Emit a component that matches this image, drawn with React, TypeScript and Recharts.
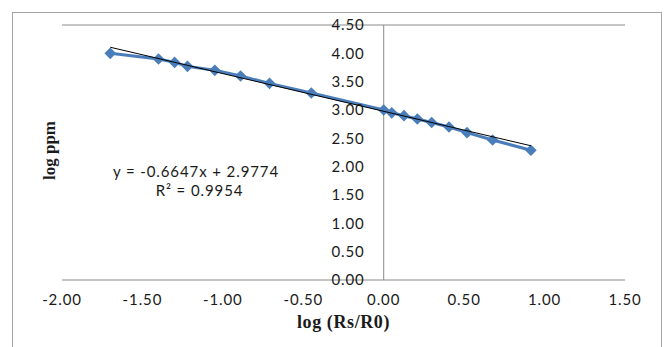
import {
  ComposedChart,
  CartesianGrid,
  ReferenceDot,
  ReferenceLine,
  Scatter,
  XAxis,
  YAxis,
} from "recharts";

// leituras do gráfico original (log Rs/R0 × log ppm)
const logRsR0 = [-1.7, -1.4, -1.3, -1.22, -1.05, -0.89, -0.71, -0.45, 0, 0.05, 0.126, 0.209, 0.298, 0.406, 0.518, 0.677, 0.915];
const logPpm = [4.0, 3.9, 3.84, 3.77, 3.7, 3.6, 3.47, 3.3, 3.0, 2.95, 2.9, 2.84, 2.78, 2.7, 2.6, 2.47, 2.29];

const xTicks = [-2, -1.5, -1, -0.5, 0, 0.5, 1, 1.5];
const yTicks = [0, 0.5, 1, 1.5, 2, 2.5, 3, 3.5, 4, 4.5];

// linha de tendência linear (coeficientes do próprio gráfico)
const slope = -0.6647;
const intercept = 2.9774;
const equationText = "y = -0.6647x + 2.9774";
const r2Text = "R² = 0.9954";

const pontos = logRsR0.map((x, i) => ({ x, y: logPpm[i] }));
const xMin = Math.min(...logRsR0);
const xMax = Math.max(...logRsR0);
const tendencia = [
  { x: xMin, y: slope * xMin + intercept },
  { x: xMax, y: slope * xMax + intercept },
];

const AZUL = "#4A7EBB";
const GRADE = "#8a8a8a";
const TEXTO = "#1a1a1a";
const FONTE = "Lato, 'Open Sans', sans-serif";
const SERIFA = "'Liberation Serif', 'DejaVu Serif', serif";

const fmt = (v: number) => v.toFixed(2);

const estiloTexto = {
  fontSize: 15,
  letterSpacing: 0.9,
  fill: TEXTO,
  fontFamily: FONTE,
};

function Losango(props: { cx?: number; cy?: number }) {
  const { cx, cy } = props;
  if (cx == null || cy == null) return null;
  const r = 5.8;
  return (
    <polygon
      points={`${cx},${cy - r} ${cx + r},${cy} ${cx},${cy + r} ${cx - r},${cy}`}
      fill={AZUL}
    />
  );
}

export default function App() {
  return (
    <div
      style={{
        position: "absolute",
        left: 0,
        top: 0,
        width: 664,
        height: 347,
        background: "#fff",
        overflow: "hidden",
      }}
    >
      <div
        style={{
          position: "absolute",
          left: 12,
          top: 12,
          width: 648,
          height: 360,
          border: "1px solid #a6a6a6",
        }}
      />
      <div style={{ position: "absolute", left: 0, top: 0 }}>
        <ComposedChart
          width={664}
          height={347}
          margin={{ top: 25, right: 39, bottom: 17, left: 0 }}
        >
          <CartesianGrid vertical={false} stroke={GRADE} />
          <XAxis
            type="number"
            dataKey="x"
            domain={[-2, 1.5]}
            ticks={xTicks}
            tickFormatter={fmt}
            axisLine={false}
            tickLine={false}
            tickSize={6}
            tickMargin={8}
            height={50}
            tick={estiloTexto}
            label={{
              value: "log (Rs/R0)",
              position: "insideBottom",
              offset: 2,
              fontSize: 18,
              letterSpacing: 0.6,
              fontWeight: "bold",
              fill: TEXTO,
              fontFamily: SERIFA,
            }}
          />
          <YAxis
            type="number"
            dataKey="y"
            domain={[0, 4.5]}
            ticks={yTicks}
            width={62}
            axisLine={false}
            tickLine={false}
            tick={false}
            label={{
              content: ({ viewBox }: any) => {
                const cx = 49;
                const cy = viewBox.y + viewBox.height / 2 - 2;
                return (
                  <text
                    x={cx}
                    y={cy}
                    transform={`rotate(-90, ${cx}, ${cy})`}
                    textAnchor="middle"
                    dominantBaseline="central"
                    fontSize={17}
                    fontWeight="bold"
                    fontFamily={SERIFA}
                    fill={TEXTO}
                  >
                    log ppm
                  </text>
                );
              },
            }}
          />

          {/* eixo vertical em x = 0, com os rótulos do eixo y ao lado */}
          <ReferenceLine x={0} stroke={GRADE} />
          {yTicks.map((t) => (
            <ReferenceDot
              key={`yt-${t}`}
              x={0}
              y={t}
              r={0}
              fill="none"
              stroke="none"
              label={{
                value: fmt(t),
                position: "left",
                offset: 19,
                ...estiloTexto,
              }}
            />
          ))}

          <Scatter
            data={pontos}
            dataKey="y"
            fill={AZUL}
            line={{ stroke: AZUL, strokeWidth: 3 }}
            lineType="joint"
            shape={<Losango />}
            isAnimationActive={false}
          />
          <Scatter
            data={tendencia}
            dataKey="y"
            fill="none"
            line={{ stroke: "#000", strokeWidth: 1 }}
            lineType="joint"
            shape={() => <g />}
            isAnimationActive={false}
          />

          {/* equação e R² da tendência */}
          <ReferenceDot
            x={-1.167}
            y={1.91}
            r={0}
            fill="none"
            stroke="none"
            label={{ value: equationText, position: "center", ...estiloTexto }}
          />
          <ReferenceDot
            x={-1.145}
            y={1.58}
            r={0}
            fill="none"
            stroke="none"
            label={{ value: r2Text, position: "center", ...estiloTexto }}
          />
        </ComposedChart>
      </div>
    </div>
  );
}
